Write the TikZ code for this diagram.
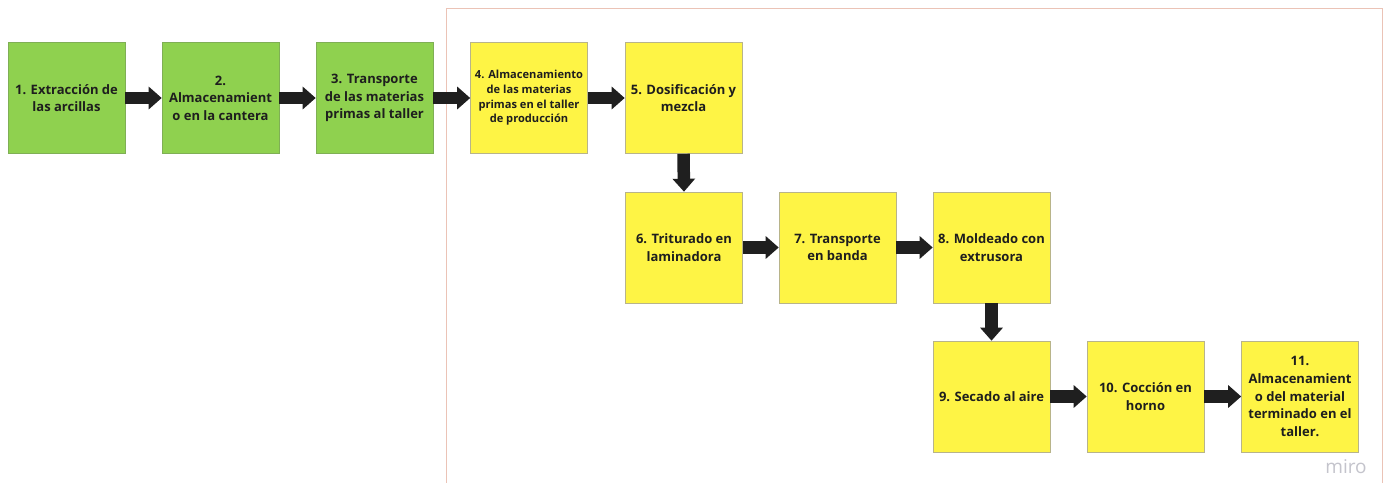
\documentclass[tikz,border=0pt]{standalone}
\usepackage{fontspec}
\setmainfont{Open Sans}
\usetikzlibrary{arrows.meta}
\definecolor{boxgreen}{HTML}{8FD14F}
\definecolor{boxyellow}{HTML}{FEF445}
\definecolor{boxedge}{HTML}{B8B48A}
\definecolor{greenedge}{HTML}{7FAF55}
\definecolor{framecol}{HTML}{EBC3B6}
\definecolor{txt}{HTML}{1E1E1E}
\definecolor{mirogray}{HTML}{C4C4CC}
\tikzset{
  stepbox/.style={rectangle, minimum width=117pt, minimum height=111pt, inner sep=2pt,
    align=center, text=txt, font=\fontsize{13}{17.6}\selectfont\bfseries, line width=0.6pt},
  greenbox/.style={stepbox, fill=boxgreen, draw=greenedge},
  yellowbox/.style={stepbox, fill=boxyellow, draw=boxedge},
  flow/.style={line width=12.5pt, draw=black!88, -{Triangle[width=22pt,length=13pt]}},
}
\begin{document}
\begin{tikzpicture}[x=1pt,y=-1pt]
\useasboundingbox (0,0) rectangle (1391,482);
\fill[white] (0,0) rectangle (1391,482);
% frame
\draw[framecol, line width=1pt] (446,490) -- (446,8.5) -- (1382.5,8.5) -- (1382.5,490);
% row 1
\node[greenbox] (b1) at (66.5,98) {1. Extracción de\\las arcillas};
\node[greenbox] (b2) at (220.5,98) {2.\\Almacenamient\\o en la cantera};
\node[greenbox] (b3) at (374.5,98) {3. Transporte\\de las materias\\primas al taller};
\node[yellowbox, font=\fontsize{11.1}{14.7}\selectfont\bfseries] (b4) at (529,98) {4. Almacenamiento\\de las materias\\primas en el taller\\de producción};
\node[yellowbox] (b5) at (683.5,98) {5. Dosificación y\\mezcla};
% row 2
\node[yellowbox] (b6) at (684,247.5) {6. Triturado en\\laminadora};
\node[yellowbox] (b7) at (837.5,247.5) {7. Transporte\\en banda};
\node[yellowbox] (b8) at (991.5,247.5) {8. Moldeado con\\extrusora};
% row 3
\node[yellowbox] (b9) at (991.5,396.5) {9. Secado al aire};
\node[yellowbox] (b10) at (1145.5,396.5) {10. Cocción en\\horno};
\node[yellowbox] (b11) at (1300,396.5) {11.\\Almacenamient\\o del material\\terminado en el\\taller.};
% arrows
\draw[flow] (b1.east) -- (b2.west);
\draw[flow] (b2.east) -- (b3.west);
\draw[flow] (b3.east) -- (b4.west);
\draw[flow] (b4.east) -- (b5.west);
\draw[flow] (b5.south) -- (b6.north);
\draw[flow] (b6.east) -- (b7.west);
\draw[flow] (b7.east) -- (b8.west);
\draw[flow] (b8.south) -- (b9.north);
\draw[flow] (b9.east) -- (b10.west);
\draw[flow] (b10.east) -- (b11.west);
% watermark
\node[text=mirogray, font=\fontsize{19}{20}\selectfont, inner sep=0pt] (miro) at (1346,467) {miro};
\end{tikzpicture}
\end{document}
